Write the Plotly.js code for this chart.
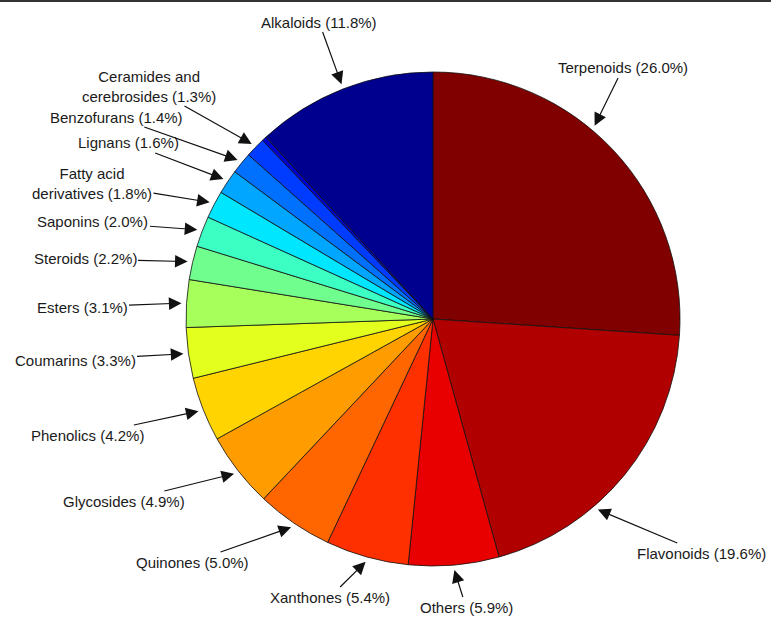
<!DOCTYPE html>
<html>
<head>
<meta charset="utf-8">
<script src="https://cdn.plot.ly/plotly-3.0.1.min.js"></script>
<style>html,body{margin:0;padding:0;background:#fff;}#chart{width:771px;height:617px;}</style>
</head>
<body>
<div id="chart"></div>
<script>
// ---- data (clockwise from 12 o'clock) ----
const categories = ["Terpenoids","Flavonoids","Others","Xanthones","Quinones","Glycosides",
  "Phenolics","Coumarins","Esters","Steroids","Saponins","Fatty acid<br>derivatives",
  "Lignans","Benzofurans","Ceramides and<br>cerebrosides","(unlabelled)","Alkaloids"];
const percents = [26.0,19.6,5.9,5.4,5.0,4.9,4.2,3.3,3.1,2.2,2.0,1.8,1.6,1.4,1.3,0.3,11.8];
const labelled = [1,1,1,1,1,1,1,1,1,1,1,1,1,1,1,0,1];

// ---- styles ----
const colors = ["#800000","#b00000","#e80000","#ff3000","#ff6600","#ff9c00","#ffd400",
  "#e2ff1e","#a6ff5a","#70ff8e","#3cffc4","#00e6ff","#00a6ff","#0070ff","#003cff","#0000d0","#00008f"];
// label text centres in pixels (layout)
const textX = [623,701,466,330,192,124,87,75,82,85,93,92,129,116,149,0,319];
const textY = [68,553,607,597,562,501,435,360,307,259,222,183,143,117,86,0,22];
const tipNudgeDeg = [-7,10,0,0,0,0,0,0,0,0,0,0,0,0,0,0,0];

const W = 771, H = 617;
const cx = 433, cy = 319, R = 247, tipR = 252;

const total = percents.reduce((a,b)=>a+b,0);
const annotations = [];
let cum = 0;
percents.forEach((v,i)=>{
  const mid = (cum + v/2)/total*360 + tipNudgeDeg[i];
  cum += v;
  if(!labelled[i]) return;
  const th = mid*Math.PI/180;
  const tx = cx + tipR*Math.sin(th), ty = cy - tipR*Math.cos(th);
  annotations.push({
    x: tx/W, y: 1 - ty/H, xref:'paper', yref:'paper',
    ax: textX[i]-tx, ay: textY[i]-ty,
    text: categories[i] + " (" + v.toFixed(1) + "%)",
    showarrow:true, arrowhead:2, arrowsize:2.1, arrowwidth:1.2, arrowcolor:'#111',
    font:{family:'Liberation Sans, Arial, sans-serif', size:15, color:'#1a1a1a'},
    align:'center'
  });
});

const trace = {
  type:'pie', labels:categories, values:percents, sort:false, direction:'clockwise', rotation:0,
  marker:{colors:colors, line:{color:'#111', width:0.8}},
  textinfo:'none', hoverinfo:'none',
  domain:{x:[(cx-R)/W,(cx+R)/W], y:[(H-cy-R)/H,(H-cy+R)/H]}
};

const layout = {
  width:W, height:H, margin:{l:0,r:0,t:0,b:0}, showlegend:false,
  paper_bgcolor:'#fff', annotations:annotations,
  shapes:[{type:'line', xref:'paper', yref:'paper', x0:0, x1:1, y0:1-1/H, y1:1-1/H, line:{color:'#333', width:2}}]
};
Plotly.newPlot('chart',[trace],layout,{staticPlot:true});
</script>
</body>
</html>
